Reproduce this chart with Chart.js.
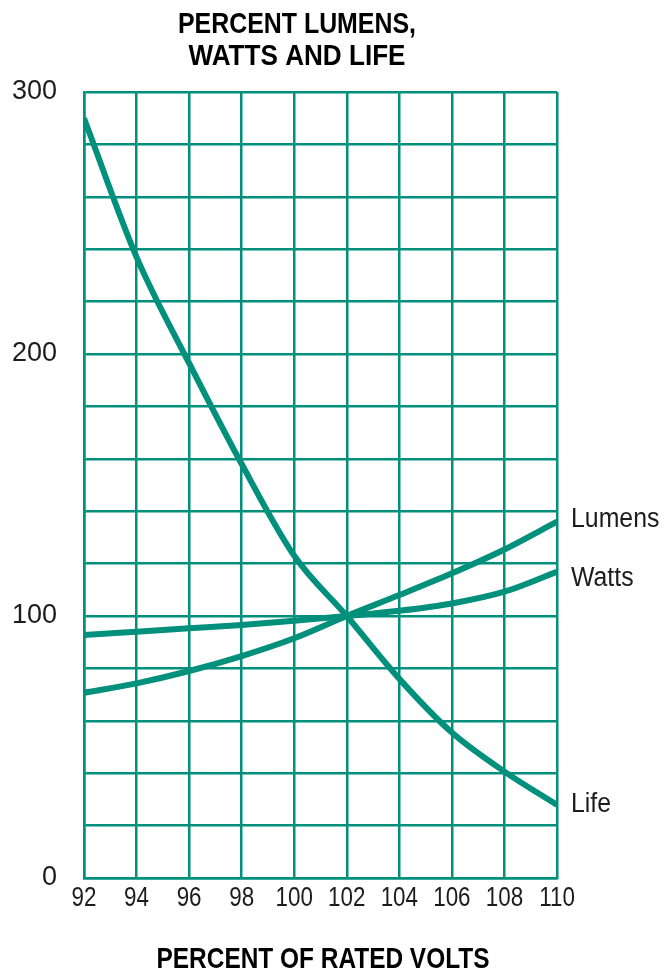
<!DOCTYPE html>
<html>
<head>
<meta charset="utf-8">
<script src="https://cdn.jsdelivr.net/npm/chart.js@4/dist/chart.umd.min.js"></script>
<style>
  html, body { margin: 0; padding: 0; background: #fff; }
  canvas { display: block; }
</style>
</head>
<body>
<canvas id="chart" width="672" height="976"></canvas>
<script>
// --- DATA ---
const volts = [92, 94, 96, 98, 100, 102, 104, 106, 108, 110];
const lumens = [70.7, 74.3, 79, 84.7, 91.5, 100, 108, 116.3, 125.4, 136];
const watts = [92.7, 94, 95.3, 96.6, 98.2, 100, 102, 104.8, 109.3, 116.9];
const life = [290, 237, 196.5, 158, 123, 100, 76, 55.5, 40.6, 27.9];
const yTickLabels = [0, 100, 200, 300];
const seriesNames = ['Lumens', 'Watts', 'Life'];
const titleLines = ['PERCENT LUMENS,', 'WATTS AND LIFE'];
const xTitle = 'PERCENT OF RATED VOLTS';

const teal = '#00907c';
const ink = '#1c1c1c';

// build {x,y} points from the arrays
const toPoints = vals => vals.map((v, i) => ({ x: volts[i], y: v }));

// draw text squeezed to a given width (no condensed fonts installed)
function squeezed(ctx, text, x, y, width) {
    const w = ctx.measureText(text).width;
    const k = Math.min(1, width / w);
    ctx.save();
    ctx.translate(x, y);
    ctx.scale(k, 1);
    ctx.fillText(text, 0, 0);
    ctx.restore();
}

// titles, x tick labels and curve end labels
const annotate = {
    id: 'annotate',
    afterDraw(chart) {
        const ctx = chart.ctx;
        const xs = chart.scales.x, ys = chart.scales.y;
        ctx.save();
        ctx.fillStyle = '#000';
        ctx.textAlign = 'center';
        ctx.textBaseline = 'alphabetic';
        ctx.font = 'bold 30px "Liberation Sans", Arial, sans-serif';
        squeezed(ctx, titleLines[0], 297, 33, 238);
        squeezed(ctx, titleLines[1], 297, 65, 217);
        squeezed(ctx, xTitle, 323, 968, 333);

        // x tick labels (condensed)
        ctx.fillStyle = ink;
        ctx.font = '27px "Liberation Sans", Arial, sans-serif';
        ctx.textBaseline = 'middle';
        xs.ticks.forEach(t => {
            const label = String(t.value);
            const w = ctx.measureText(label).width * 0.83;
            squeezed(ctx, label, xs.getPixelForValue(t.value), 899, w);
        });

        // series names at right end of each curve
        const offsets = [-2, 7, 0];
        ctx.textAlign = 'left';
        chart.data.datasets.forEach((ds, i) => {
            const last = ds.data[ds.data.length - 1];
            const px = xs.getPixelForValue(last.x) + 14;
            const py = ys.getPixelForValue(last.y) + offsets[i];
            const w = ctx.measureText(seriesNames[i]).width * 0.92;
            squeezed(ctx, seriesNames[i], px, py, w);
        });
        ctx.restore();
    }
};

const mkSet = (label, vals) => ({
    label: label,
    data: toPoints(vals),
    borderColor: teal,
    borderWidth: 6,
    pointRadius: 0,
    fill: false,
    cubicInterpolationMode: 'monotone'
});

new Chart(document.getElementById('chart'), {
    type: 'line',
    data: {
        datasets: [
            mkSet(seriesNames[0], lumens),
            mkSet(seriesNames[1], watts),
            mkSet(seriesNames[2], life)
        ]
    },
    options: {
        responsive: false,
        animation: false,
        devicePixelRatio: 1,
        layout: { padding: { top: 92, right: 115, left: 0, bottom: 0 } },
        plugins: { legend: { display: false }, tooltip: { enabled: false }, title: { display: false } },
        scales: {
            x: {
                type: 'linear',
                min: 92, max: 110,
                grid: { color: teal, lineWidth: 2.5, drawTicks: false },
                border: { color: teal, width: 2.5 },
                ticks: { stepSize: 2, display: true, color: 'rgba(0,0,0,0)', font: { size: 27 } },
                afterFit: s => { s.height = 98; }
            },
            y: {
                min: 0, max: 300,
                grid: { color: teal, lineWidth: 2.5, drawTicks: false },
                border: { color: teal, width: 2.5 },
                ticks: {
                    stepSize: 20,
                    autoSkip: false,
                    padding: 27,
                    color: ink,
                    font: { family: '"Liberation Sans", Arial, sans-serif', size: 27 },
                    callback: v => yTickLabels.includes(v) ? String(v) : ''
                },
                afterFit: s => { s.width = 84; }
            }
        }
    },
    plugins: [annotate]
});
</script>
</body>
</html>
